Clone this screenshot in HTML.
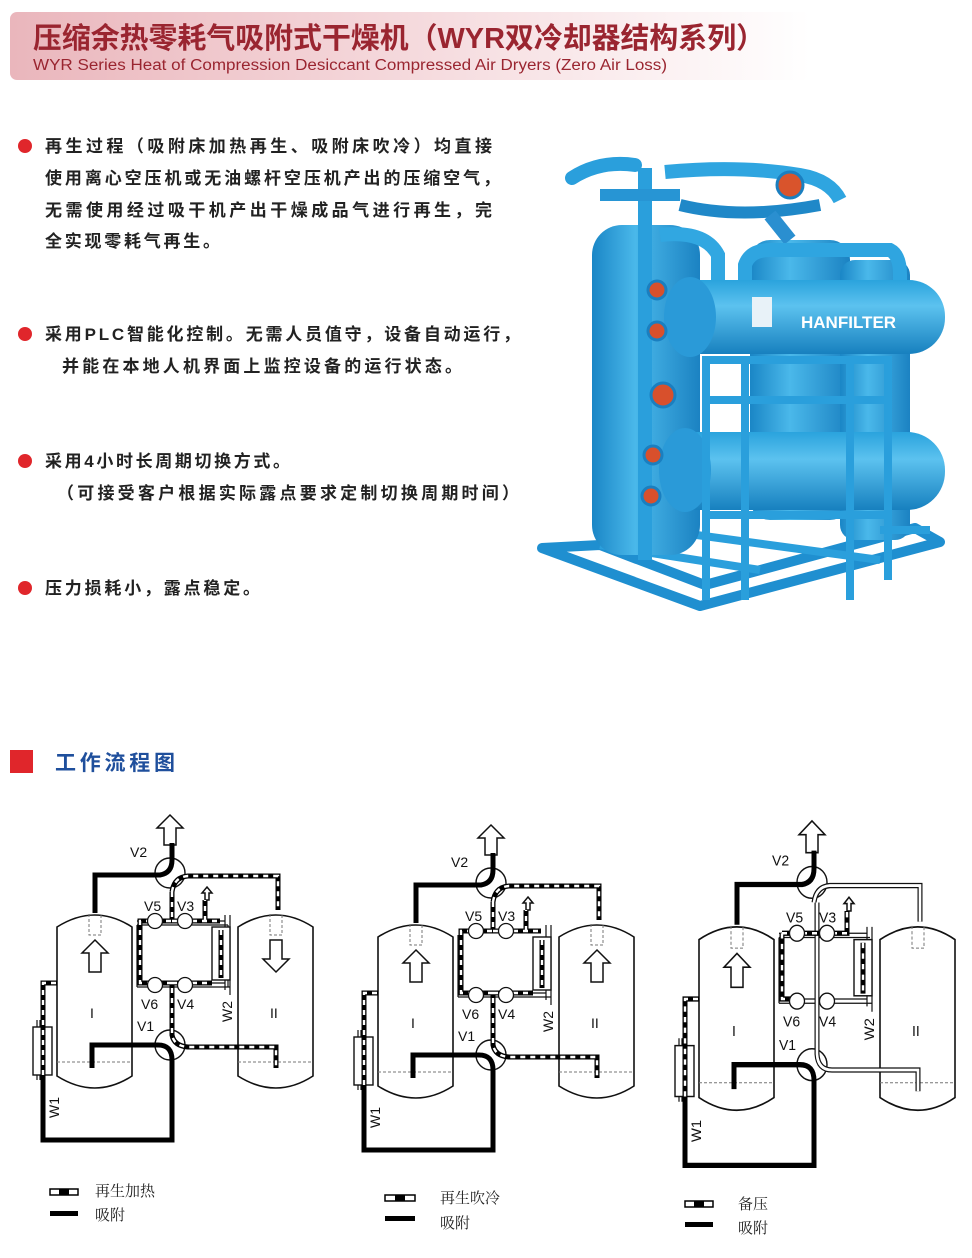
<!DOCTYPE html>
<html><head><meta charset="utf-8"><style>
html,body{margin:0;padding:0;background:#fff}
svg{display:block}
text{font-family:"Liberation Sans","Noto Sans CJK SC",sans-serif}
.cn{font-family:"Liberation Sans","Noto Sans CJK SC",sans-serif;font-weight:bold;font-size:17px;fill:#222}
.lb{font-family:"Liberation Sans","Noto Sans CJK SC",sans-serif;font-size:14px;fill:#111}
.lg{font-family:"Liberation Serif","Noto Serif CJK SC",serif;font-size:15px;fill:#222}
</style></head><body>
<svg width="972" height="1258" viewBox="0 0 972 1258" xmlns="http://www.w3.org/2000/svg">
<defs>
<linearGradient id="hg" x1="0" x2="1" y1="0" y2="0">
<stop offset="0" stop-color="#eab6bc"/><stop offset="0.55" stop-color="#f6dde0"/><stop offset="1" stop-color="#ffffff"/>
</linearGradient>
<linearGradient id="cyl" x1="0" x2="0" y1="0" y2="1">
<stop offset="0" stop-color="#2aa3dd"/><stop offset="0.35" stop-color="#5cc2ef"/><stop offset="1" stop-color="#1780bf"/>
</linearGradient>
<linearGradient id="vcyl" x1="0" x2="1" y1="0" y2="0">
<stop offset="0" stop-color="#1a86c6"/><stop offset="0.4" stop-color="#4ab8ea"/><stop offset="1" stop-color="#1b82c2"/>
</linearGradient>
</defs>
<rect x="0" y="0" width="972" height="1258" fill="#fff"/>
<!-- header -->
<rect x="10" y="12" width="800" height="68" rx="7" fill="url(#hg)"/>
<text x="33" y="48" font-size="29" font-weight="bold" fill="#9a2530" textLength="732" lengthAdjust="spacingAndGlyphs">压缩余热零耗气吸附式干燥机（WYR双冷却器结构系列）</text>
<text x="33" y="70" font-size="15.5" fill="#9a2530" textLength="634" lengthAdjust="spacingAndGlyphs">WYR Series Heat of Compression Desiccant Compressed Air Dryers (Zero Air Loss)</text>

<!-- bullets -->
<g fill="#e0262b"><circle cx="25" cy="146" r="7"/><circle cx="25" cy="334" r="7"/><circle cx="25" cy="461" r="7"/><circle cx="25" cy="588" r="7"/></g>
<text class="cn" x="45" y="152" textLength="447">再生过程（吸附床加热再生、吸附床吹冷）均直接</text>
<text class="cn" x="45" y="184" textLength="455">使用离心空压机或无油螺杆空压机产出的压缩空气，</text>
<text class="cn" x="45" y="216" textLength="447">无需使用经过吸干机产出干燥成品气进行再生，完</text>
<text class="cn" x="45" y="247" textLength="175">全实现零耗气再生。</text>
<text class="cn" x="45" y="340" textLength="475">采用PLC智能化控制。无需人员值守，设备自动运行，</text>
<text class="cn" x="62" y="372" textLength="400">并能在本地人机界面上监控设备的运行状态。</text>
<text class="cn" x="45" y="467" textLength="245">采用4小时长周期切换方式。</text>
<text class="cn" x="57" y="499" textLength="462">（可接受客户根据实际露点要求定制切换周期时间）</text>
<text class="cn" x="45" y="594" textLength="215">压力损耗小，露点稳定。</text>

<!-- machine -->
<g>
<g stroke="#1f8fd0" stroke-width="10" fill="none" stroke-linejoin="round">
<polygon points="542,548 700,606 940,542 915,528 705,585 600,545"/>
</g>
<path d="M600,545 L760,570 M660,530 L880,560" stroke="#2a9fdc" stroke-width="8"/>
<rect x="592" y="225" width="108" height="330" rx="30" fill="url(#vcyl)"/>
<rect x="750" y="240" width="100" height="280" rx="20" fill="url(#vcyl)"/>
<rect x="840" y="260" width="70" height="280" rx="15" fill="url(#vcyl)"/>
<path d="M572,178 Q600,160 635,165" stroke="#2a9fdc" stroke-width="14" fill="none" stroke-linecap="round"/>
<path d="M645,168 L645,560" stroke="#2a9fdc" stroke-width="14" fill="none"/>
<path d="M600,195 L680,195" stroke="#2795d4" stroke-width="12" fill="none"/>
<path d="M665,172 Q740,165 800,175 Q830,180 840,200" stroke="#2fa5e0" stroke-width="14" fill="none"/>
<path d="M680,205 Q740,220 820,205" stroke="#1f88c8" stroke-width="12" fill="none"/>
<path d="M770,215 L790,240" stroke="#2a8fd0" stroke-width="14"/>
<path d="M660,235 Q705,230 718,255 L718,300" stroke="#31a7e1" stroke-width="14" fill="none"/>
<path d="M745,300 L745,265 Q750,250 770,250 L890,250 Q900,255 900,275 L900,290" stroke="#2fa5e0" stroke-width="14" fill="none"/>
<circle cx="790" cy="185" r="13" fill="#d9542c" stroke="#1a7fc0" stroke-width="3"/>
<rect x="665" y="280" width="280" height="74" rx="36" fill="url(#cyl)"/>
<ellipse cx="690" cy="317" rx="26" ry="40" fill="#2a9ad8"/>
<rect x="660" y="432" width="285" height="78" rx="38" fill="url(#cyl)"/>
<ellipse cx="685" cy="470" rx="26" ry="42" fill="#2a9ad8"/>
<rect x="752" y="297" width="20" height="30" fill="#e8f2f8"/>
<text x="801" y="328" font-size="17" font-weight="bold" fill="#fff">HANFILTER</text>
<g stroke="#2a9fdc" stroke-width="8" fill="none">
<path d="M706,600 L706,360 L888,360 L888,580"/>
<path d="M745,600 L745,360 M850,360 L850,600"/>
<path d="M706,400 L888,400 M706,515 L888,515"/>
<path d="M880,530 L930,530"/>
</g>
<g fill="#d8502c" stroke="#1a7fc0" stroke-width="3">
<circle cx="657" cy="290" r="9"/><circle cx="657" cy="331" r="9"/><circle cx="663" cy="395" r="12"/><circle cx="653" cy="455" r="9"/><circle cx="651" cy="496" r="9"/>
</g>
</g>

<!-- section title -->
<rect x="10" y="750" width="23" height="23" fill="#e0262b"/>
<text x="55" y="770" font-size="21" font-weight="bold" fill="#1f4f9c" textLength="120">工作流程图</text>

<!-- Diagram 1 -->
<g>
<g fill="#fff" stroke="#111" stroke-width="1.6">
<path d="M57,927 Q95,903 132,927 L132,1076 Q95,1100 57,1076 Z"/>
<path d="M238,927 Q276,903 313,927 L313,1076 Q276,1100 238,1076 Z"/>
</g>
<g stroke="#777" stroke-width="1" stroke-dasharray="3 2" fill="none">
<path d="M89,914 V935 H101 V914"/><path d="M270,914 V935 H282 V914"/>
<path d="M57,1062 H132 M238,1062 H313"/>
</g>
<g fill="#fff" stroke="#111" stroke-width="1.5">
<path d="M95,940 L108,953 H101 V972 H89 V953 H82 Z"/>
<path d="M276,972 L289,959 H282 V940 H270 V959 H263 Z"/>
<path d="M170,815 L183,828 H176 V845 H164 V828 H157 Z"/>
<path d="M207,887 L212,893 H209 V900 H205 V893 H202 Z"/>
</g>
<g stroke="#111" stroke-width="1.2" fill="none">
<path d="M137,921 H225 M137,925 H228 M137,983 H225 M137,987 H230 M137,925 V987 M228,925 V987"/>
<path d="M225,915 V990 M230,915 V995"/>
<path d="M37,1020 V1080 M40,1020 V1080"/>
</g>
<g stroke="#111" stroke-width="1.4" fill="#fff">
<circle cx="170" cy="873" r="15"/><circle cx="170" cy="1045" r="15"/>
<rect x="212" y="927" width="18" height="53"/><rect x="33" y="1027" width="19" height="48"/>
</g>
<g stroke="#000" stroke-width="5" fill="none">
<path d="M95,913 V875 H160 Q172,873 172,860 V843"/>
<path d="M92,1068 V1045 H158 Q172,1045 172,1060 V1140 H43 V1075"/>
</g>
<g fill="none" stroke-width="5">
<path d="M172,892 Q174,877 188,876 H278 V910 M172,892 V921 H140 V983 H172 V1035 Q174,1046 188,1047 H276 V1068 M205,921 V900 M172,921 H220 M221,930 V978 M43,1075 V983 H57 M172,983 H212" stroke="#000"/>
<path d="M172,892 Q174,877 188,876 H278 V910 M172,892 V921 H140 V983 H172 V1035 Q174,1046 188,1047 H276 V1068 M205,921 V900 M172,921 H220 M221,930 V978 M43,1075 V983 H57 M172,983 H212" stroke="#fff" stroke-width="2.4" stroke-dasharray="5 5"/>
</g>
<g stroke="#111" stroke-width="1.3" fill="#fff">
<circle cx="155" cy="921" r="7.5"/><circle cx="185" cy="921" r="7.5"/><circle cx="155" cy="985" r="7.5"/><circle cx="185" cy="985" r="7.5"/>
</g>
<g class="lb">
<text x="130" y="857">V2</text><text x="144" y="911">V5</text><text x="177" y="911">V3</text>
<text x="141" y="1009">V6</text><text x="177" y="1009">V4</text><text x="137" y="1031">V1</text>
<text x="90" y="1018" font-family="Liberation Serif,serif">I</text><text x="270" y="1018" font-family="Liberation Serif,serif">II</text>
<text transform="translate(232,1022) rotate(-90)">W2</text>
<text transform="translate(59,1118) rotate(-90)">W1</text>
</g>
</g>
<!-- Diagram 2 -->
<g transform="translate(321,10)">
<g fill="#fff" stroke="#111" stroke-width="1.6">
<path d="M57,927 Q95,903 132,927 L132,1076 Q95,1100 57,1076 Z"/>
<path d="M238,927 Q276,903 313,927 L313,1076 Q276,1100 238,1076 Z"/>
</g>
<g stroke="#777" stroke-width="1" stroke-dasharray="3 2" fill="none">
<path d="M89,914 V935 H101 V914"/><path d="M270,914 V935 H282 V914"/>
<path d="M57,1062 H132 M238,1062 H313"/>
</g>
<g fill="#fff" stroke="#111" stroke-width="1.5">
<path d="M95,940 L108,953 H101 V972 H89 V953 H82 Z"/>
<path d="M276,940 L289,953 H282 V972 H270 V953 H263 Z"/>
<path d="M170,815 L183,828 H176 V845 H164 V828 H157 Z"/>
<path d="M207,887 L212,893 H209 V900 H205 V893 H202 Z"/>
</g>
<g stroke="#111" stroke-width="1.2" fill="none">
<path d="M137,983 H225 M137,987 H230 M137,925 V987"/>
<path d="M225,915 V990 M230,915 V995 M37,1020 V1080 M40,1020 V1080"/>
</g>
<g stroke="#111" stroke-width="1.4" fill="#fff">
<circle cx="170" cy="873" r="15"/><circle cx="170" cy="1045" r="15"/>
<rect x="212" y="927" width="18" height="53"/><rect x="33" y="1027" width="19" height="48"/>
</g>
<g stroke="#000" stroke-width="5" fill="none">
<path d="M95,913 V875 H160 Q172,873 172,860 V843"/>
<path d="M92,1068 V1045 H158 Q172,1045 172,1060 V1140 H43 V1075"/>
</g>
<g fill="none" stroke-width="5">
<path d="M172,892 Q174,877 188,876 H278 V910 M172,892 V921 H140 V983 H172 V1035 Q174,1046 188,1047 H276 V1068 M205,921 V900 M172,921 H220 M221,930 V978 M43,1075 V983 H57 M172,983 H212" stroke="#000"/>
<path d="M172,892 Q174,877 188,876 H278 V910 M172,892 V921 H140 V983 H172 V1035 Q174,1046 188,1047 H276 V1068 M205,921 V900 M172,921 H220 M221,930 V978 M43,1075 V983 H57 M172,983 H212" stroke="#fff" stroke-width="2.4" stroke-dasharray="5 5"/>
</g>
<g stroke="#111" stroke-width="1.3" fill="#fff">
<circle cx="155" cy="921" r="7.5"/><circle cx="185" cy="921" r="7.5"/><circle cx="155" cy="985" r="7.5"/><circle cx="185" cy="985" r="7.5"/>
</g>
<g class="lb">
<text x="130" y="857">V2</text><text x="144" y="911">V5</text><text x="177" y="911">V3</text>
<text x="141" y="1009">V6</text><text x="177" y="1009">V4</text><text x="137" y="1031">V1</text>
<text x="90" y="1018" font-family="Liberation Serif,serif">I</text><text x="270" y="1018" font-family="Liberation Serif,serif">II</text>
<text transform="translate(232,1022) rotate(-90)">W2</text>
<text transform="translate(59,1118) rotate(-90)">W1</text>
</g>
</g>
<!-- Diagram 3 -->
<g transform="matrix(1,0,0,1.06,642,-43)">
<g fill="#fff" stroke="#111" stroke-width="1.6">
<path d="M57,927 Q95,903 132,927 L132,1076 Q95,1100 57,1076 Z"/>
<path d="M238,927 Q276,903 313,927 L313,1076 Q276,1100 238,1076 Z"/>
</g>
<g stroke="#777" stroke-width="1" stroke-dasharray="3 2" fill="none">
<path d="M89,914 V935 H101 V914"/><path d="M270,914 V935 H282 V914"/>
<path d="M57,1062 H132 M238,1062 H313"/>
</g>
<g fill="#fff" stroke="#111" stroke-width="1.5">
<path d="M95,940 L108,953 H101 V972 H89 V953 H82 Z"/>
<path d="M170,815 L183,828 H176 V845 H164 V828 H157 Z"/>
<path d="M207,887 L212,893 H209 V900 H205 V893 H202 Z"/>
</g>
<g stroke="#111" stroke-width="1.2" fill="none">
<path d="M137,921 H225 M137,925 H228 M137,983 H225 M137,987 H230 M137,925 V987"/>
<path d="M225,915 V990 M230,915 V995 M37,1020 V1080 M40,1020 V1080"/>
</g>
<g stroke="#111" stroke-width="1.4" fill="#fff">
<circle cx="170" cy="873" r="15"/><circle cx="170" cy="1045" r="15"/>
<rect x="212" y="927" width="18" height="53"/><rect x="33" y="1027" width="19" height="48"/>
</g>
<g fill="none">
<path d="M172,892 Q174,877 188,876 H278 V910 M175,892 V983 M175,983 V1035 Q176,1050 190,1050 H276 V1070" stroke="#111" stroke-width="5"/>
<path d="M172,892 Q174,877 188,876 H278 V910 M175,892 V983 M175,983 V1035 Q176,1050 190,1050 H276 V1070" stroke="#fff" stroke-width="2.6"/>
</g>
<g stroke="#000" stroke-width="5" fill="none">
<path d="M95,913 V875 H160 Q172,873 172,860 V843"/>
<path d="M92,1068 V1045 H158 Q172,1045 172,1060 V1140 H43 V1075"/>
</g>
<g fill="none" stroke-width="5">
<path d="M140,921 H205 V900 M140,921 V983 H155 M221,930 V978 M43,1075 V983 H57" stroke="#000"/>
<path d="M140,921 H205 V900 M140,921 V983 H155 M221,930 V978 M43,1075 V983 H57" stroke="#fff" stroke-width="2.4" stroke-dasharray="5 5"/>
</g>
<g stroke="#111" stroke-width="1.3" fill="#fff">
<circle cx="155" cy="921" r="7.5"/><circle cx="185" cy="921" r="7.5"/><circle cx="155" cy="985" r="7.5"/><circle cx="185" cy="985" r="7.5"/>
</g>
<g class="lb">
<text x="130" y="857">V2</text><text x="144" y="911">V5</text><text x="177" y="911">V3</text>
<text x="141" y="1009">V6</text><text x="177" y="1009">V4</text><text x="137" y="1031">V1</text>
<text x="90" y="1018" font-family="Liberation Serif,serif">I</text><text x="270" y="1018" font-family="Liberation Serif,serif">II</text>
<text transform="translate(232,1022) rotate(-90)">W2</text>
<text transform="translate(59,1118) rotate(-90)">W1</text>
</g>
</g>

<!-- legends -->
<g>
<rect x="50" y="1189" width="28" height="6" fill="#fff" stroke="#000" stroke-width="1.5"/><rect x="59" y="1189" width="10" height="6" fill="#000"/>
<rect x="50" y="1211" width="28" height="5" fill="#000"/>
<text class="lg" x="95" y="1196">再生加热</text><text class="lg" x="95" y="1220">吸附</text>
<rect x="385" y="1195" width="30" height="6" fill="#fff" stroke="#000" stroke-width="1.5"/><rect x="395" y="1195" width="10" height="6" fill="#000"/>
<rect x="385" y="1216" width="30" height="5" fill="#000"/>
<text class="lg" x="440" y="1203">再生吹冷</text><text class="lg" x="440" y="1228">吸附</text>
<rect x="685" y="1201" width="28" height="6" fill="#fff" stroke="#000" stroke-width="1.5"/><rect x="694" y="1201" width="10" height="6" fill="#000"/>
<rect x="685" y="1222" width="28" height="5" fill="#000"/>
<text class="lg" x="738" y="1209">备压</text><text class="lg" x="738" y="1233">吸附</text>
</g>
</svg>
</body></html>
